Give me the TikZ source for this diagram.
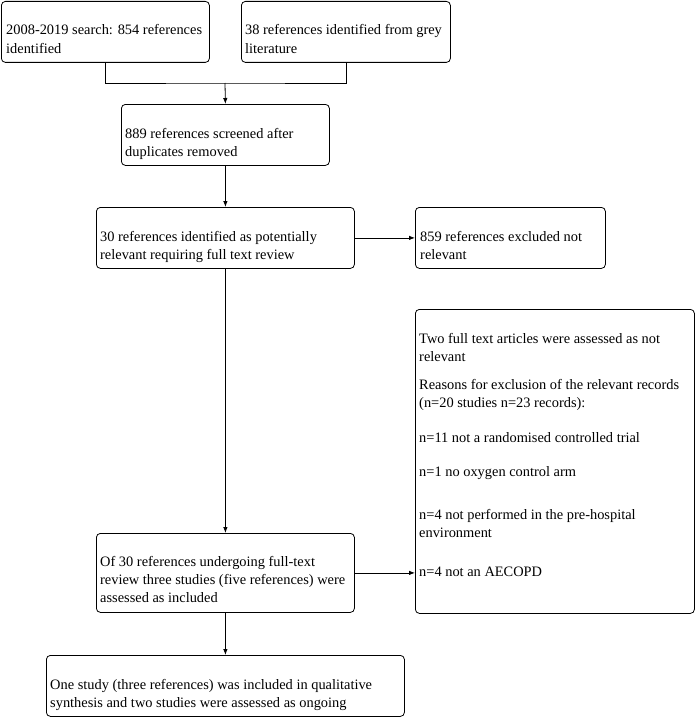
\documentclass[tikz,border=0pt]{standalone}
\usepackage{fontspec}
\setmainfont{Liberation Serif}
\usetikzlibrary{arrows.meta}
\begin{document}
\begin{tikzpicture}[x=1pt,y=-1pt,
  box/.style={draw, line width=0.8pt, rounded corners=4pt, anchor=north west, inner sep=0pt},
  txt/.style={anchor=base west, inner sep=0pt, font=\fontsize{14.4}{17}\selectfont},
  conn/.style={line width=0.8pt},
  arr/.style={conn, -{Latex[length=6pt,width=4.5pt]}}]
\useasboundingbox (0,0) rectangle (696,717);
% boxes
\node[box, minimum width=208pt, minimum height=61pt] (A) at (1,1) {};
\node[box, minimum width=209pt, minimum height=61pt] (B) at (241,1) {};
\node[box, minimum width=208pt, minimum height=61pt] (C) at (121,104) {};
\node[box, minimum width=258pt, minimum height=61pt] (D) at (96,207) {};
\node[box, minimum width=190pt, minimum height=61pt] (E) at (415,207) {};
\node[box, minimum width=279pt, minimum height=304pt] (F) at (415,309) {};
\node[box, minimum width=258pt, minimum height=79pt] (G) at (96,533) {};
\node[box, minimum width=358pt, minimum height=61pt] (H) at (46,655) {};
% texts
\node[txt] (a1) at (6,35) {2008-2019 search: 854 references};
\node[txt] (a2) at (6,53) {identified};
\node[txt] (b1) at (245,35) {38 references identified from grey};
\node[txt] (b2) at (245,53) {literature};
\node[txt] (c1) at (125,138) {889 references screened after};
\node[txt] (c2) at (125,156) {duplicates removed};
\node[txt] (d1) at (100,241) {30 references identified as potentially};
\node[txt] (d2) at (100,259) {relevant requiring full text review};
\node[txt] (e1) at (420,241) {859 references excluded not};
\node[txt] (e2) at (420,259) {relevant};
\node[txt] (f1) at (419,343) {Two full text articles were assessed as not};
\node[txt] (f2) at (419,361) {relevant};
\node[txt] (f3) at (419,389) {Reasons for exclusion of the relevant records};
\node[txt] (f4) at (419,407) {(n=20 studies n=23 records):};
\node[txt] (f5) at (419,442) {n=11 not a randomised controlled trial};
\node[txt] (f6) at (419,476) {n=1 no oxygen control arm};
\node[txt] (f7) at (419,519) {n=4 not performed in the pre-hospital};
\node[txt] (f8) at (419,537) {environment};
\node[txt] (f9) at (419,576) {n=4 not an AECOPD};
\node[txt] (g1) at (100,566) {Of 30 references undergoing full-text};
\node[txt] (g2) at (100,584) {review three studies (five references) were};
\node[txt] (g3) at (100,602) {assessed as included};
\node[txt] (h1) at (50,689) {One study (three references) was included in qualitative};
\node[txt] (h2) at (50,707) {synthesis and two studies were assessed as ongoing};
% connectors
\coordinate (j) at (225,83);
\draw[conn] (A.south) |- (j) -| (B.south);
\draw[arr] (j) -- (C.north);
\draw[arr] (C.south) -- (D.north);
\draw[arr] (D.east) -- (E.west);
\draw[arr] (D.south) -- (G.north);
\draw[arr] (G.east) -- (G.east -| F.west);
\draw[arr] (G.south) -- (H.north);
\end{tikzpicture}
\end{document}
